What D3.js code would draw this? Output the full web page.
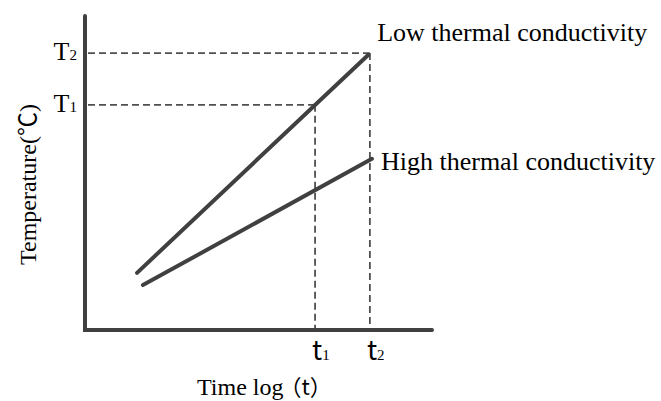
<!DOCTYPE html>
<html>
<head>
<meta charset="utf-8">
<script src="https://cdn.jsdelivr.net/npm/d3@7"></script>
<style>
    body { margin:0; background:#fff; }
    svg text { font-family:'Liberation Serif','Times New Roman',serif; fill:#000; }
    .cjk { font-family:'Noto Sans CJK SC',sans-serif; font-weight:400; }
</style>
</head>
<body>
<svg id="chart" width="661" height="401"></svg>
<script>
(function() {
    'use strict';

    // x: position along log(t), y: temperature (arbitrary 0-100 units)
    var lowLine = [[15.0, 18.2], [81.6, 87.6]],
        highLine = [[16.7, 14.3], [82.7, 54.5]];

    var tMarks = [{ name:'t', sub:'1', x:66.3, y:71.7 },
                  { name:'t', sub:'2', x:82.1, y:88.2 }];

    var TMarks = [{ name:'T', sub:'1', y:71.7, x:66.3 },
                  { name:'T', sub:'2', y:88.2, x:82.1 }];

    var seriesLabels = ['Low thermal conductivity', 'High thermal conductivity'];

    var svg = d3.select('#chart');

    var x = d3.scaleLinear().domain([0, 100]).range([85, 432]),
        y = d3.scaleLinear().domain([0, 100]).range([330, 16]);

    var line = d3.line()
        .x(function(d){ return x(d[0]); })
        .y(function(d){ return y(d[1]); });

    /**************************************************************
        dashed guides
     **************************************************************/
    var guides = svg.append('g')
        .attr('fill', 'none')
        .attr('stroke', '#505050')
        .attr('stroke-width', 1.8)
        .attr('stroke-dasharray', '7,4');

    TMarks.forEach(function(d) {
        guides.append('path')
            .attr('d', 'M'+ [x(0) +3, y(d.y)] +'L'+ [x(d.x), y(d.y)]);
    });

    tMarks.forEach(function(d) {
        guides.append('path')
            .attr('d', 'M'+ [x(d.x), y(d.y)] +'L'+ [x(d.x), y(0)]);
    });

    /**************************************************************
        axes
     **************************************************************/
    svg.append('path')
        .attr('d', 'M'+ [x(0), y(100)] +'L'+ [x(0), y(0)] +'L'+ [x(100), y(0)])
        .attr('fill', 'none')
        .attr('stroke', '#404040')
        .attr('stroke-width', 4)
        .attr('stroke-linecap', 'round');

    /**************************************************************
        series lines
     **************************************************************/
    svg.selectAll('.series')
        .data([lowLine, highLine]).enter()
            .append('path')
                .attr('class', 'series')
                .attr('d', line)
                .attr('fill', 'none')
                .attr('stroke', '#404040')
                .attr('stroke-width', 4)
                .attr('stroke-linecap', 'round');

    svg.selectAll('.slabel')
        .data(seriesLabels).enter()
            .append('text')
                .attr('class', 'slabel')
                .attr('x', function(d,i){ return i ? x(highLine[1][0]) +9 : x(lowLine[1][0]) +9; })
                .attr('y', function(d,i){ return i ? y(highLine[1][1]) +11 : y(lowLine[1][1]) -14; })
                .style('font-size', '26px')
                .text(function(d){ return d; });

    /**************************************************************
        tick labels
     **************************************************************/
    TMarks.forEach(function(d) {
        var t = svg.append('text')
            .attr('text-anchor', 'end')
            .attr('x', x(0) -8)
            .attr('y', y(d.y) +7)
            .style('font-size', '26px');
        t.append('tspan').text(d.name);
        t.append('tspan').style('font-size', '15px').text(d.sub);
    });

    tMarks.forEach(function(d) {
        var t = svg.append('text')
            .attr('x', x(d.x) -3)
            .attr('y', y(0) +30);
        t.append('tspan').attr('class', 'cjk').style('font-size', '27px').text(d.name);
        t.append('tspan').style('font-size', '15px').text(d.sub);
    });

    /**************************************************************
        axis titles
     **************************************************************/
    var xt = svg.append('text')
        .attr('x', 197)
        .attr('y', 395)
        .style('font-size', '24px');
    xt.append('tspan').text('Time log');
    xt.append('tspan').attr('class', 'cjk').style('font-size', '22px').attr('dx', -4).text('（t）');

    var yt = svg.append('text')
        .attr('transform', 'translate(36,265) rotate(-90)')
        .style('font-size', '24px');
    yt.append('tspan').text('Temperature(');
    yt.append('tspan').attr('class', 'cjk').text('℃');
    yt.append('tspan').text(')');
})();
</script>
</body>
</html>
